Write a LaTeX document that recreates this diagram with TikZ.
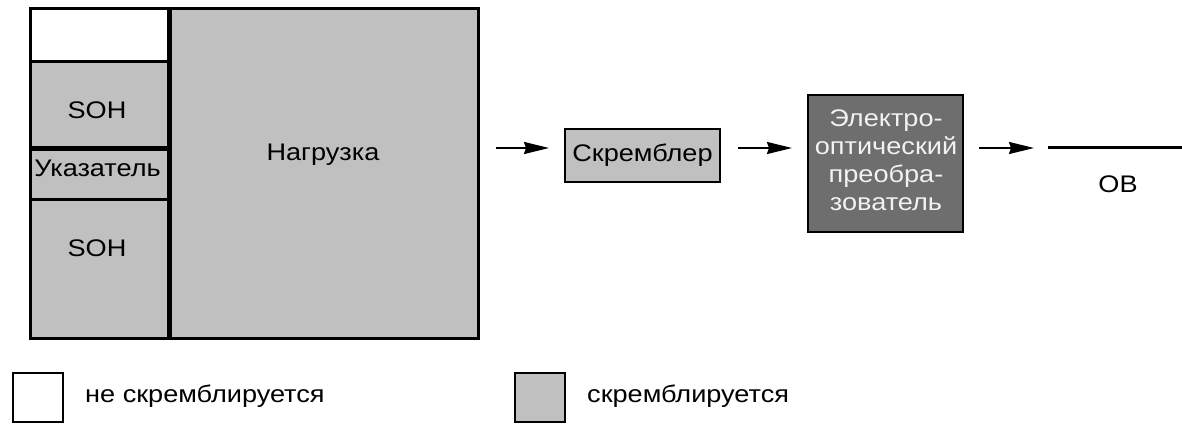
\documentclass[tikz,border=0pt]{standalone}
\usepackage{fontspec}
\setmainfont{Liberation Sans}[FakeStretch=1.13]
\usetikzlibrary{arrows.meta}
\definecolor{scr}{HTML}{C0C0C0}
\definecolor{dark}{HTML}{6E6E6E}
\definecolor{lite}{HTML}{F2F2F2}
\tikzset{
  cell/.style={draw=black, line width=3pt, fill=scr, inner sep=0pt, anchor=north west},
  txt/.style={font=\fontsize{24}{28}\selectfont, inner sep=0pt},
  arr/.style={line width=2pt, -{Stealth[length=25pt,width=12pt,inset=2pt]}},
  legbox/.style={draw=black, line width=2.2pt, inner sep=0pt, anchor=north west, minimum width=50pt, minimum height=49pt}
}
\begin{document}
\begin{tikzpicture}[x=1pt,y=-1pt]
\useasboundingbox (0,0) rectangle (1182,423);
% frame cells
\node[cell, minimum width=310pt, minimum height=330pt] (load) at (167,7) {};
\node[cell, fill=white, minimum width=138pt, minimum height=53pt] (hdr) at (29,7) {};
\node[cell, minimum width=138pt, minimum height=86pt] (soha) at (29,60) {};
\node[cell, minimum width=138pt, minimum height=52pt] (ptr) at (29,146) {};
\node[cell, minimum width=138pt, minimum height=139pt] (sohb) at (29,198) {};
\draw[line width=4pt] (hdr.north east) -- (sohb.south east);
\draw[line width=4pt] (soha.south west) -- (soha.south east);
% texts
\node[txt] (tsoha) at (97,110) {SOH};
\node[txt] (tptr) at (97.5,168) {Указатель};
\node[txt] (tsohb) at (97,248) {SOH};
\node[txt] (tload) at (323,155) {Нагрузка};
% chain
\coordinate (a1s) at (496,148);
\coordinate (a1e) at (549,148);
\node[draw=black, line width=2pt, fill=scr, minimum width=155pt, minimum height=53pt, inner sep=0pt, txt] (scr) at (642.5,155.5) {Скремблер};
\coordinate (a2s) at (738,148);
\coordinate (a2e) at (792,148);
\node[draw=black, line width=2.5pt, fill=dark, minimum width=155pt, minimum height=137pt, inner sep=0pt] (eo) at (885.5,163.5) {};
\node[txt, text=lite, align=center] (teo) at (886,160) {Электро-\\оптический\\преобра-\\зователь};
\coordinate (a3s) at (979,148);
\coordinate (a3e) at (1034,148);
\draw[arr] (a1s) -- (a1e);
\draw[arr] (a2s) -- (a2e);
\draw[arr] (a3s) -- (a3e);
\coordinate (fs) at (1048,147);
\coordinate (fe) at (1182,147);
\draw[line width=3pt] (fs) -- (fe);
\node[txt] (ob) at (1118,184) {ОВ};
% legend
\node[legbox, fill=white] (lw) at (12,372) {};
\node[txt, anchor=west] (lwt) at (85,396) {не скремблируется};
\node[legbox, fill=scr] (lg) at (514,372) {};
\node[txt, anchor=west] (lgt) at (587,396) {скремблируется};
\end{tikzpicture}
\end{document}
